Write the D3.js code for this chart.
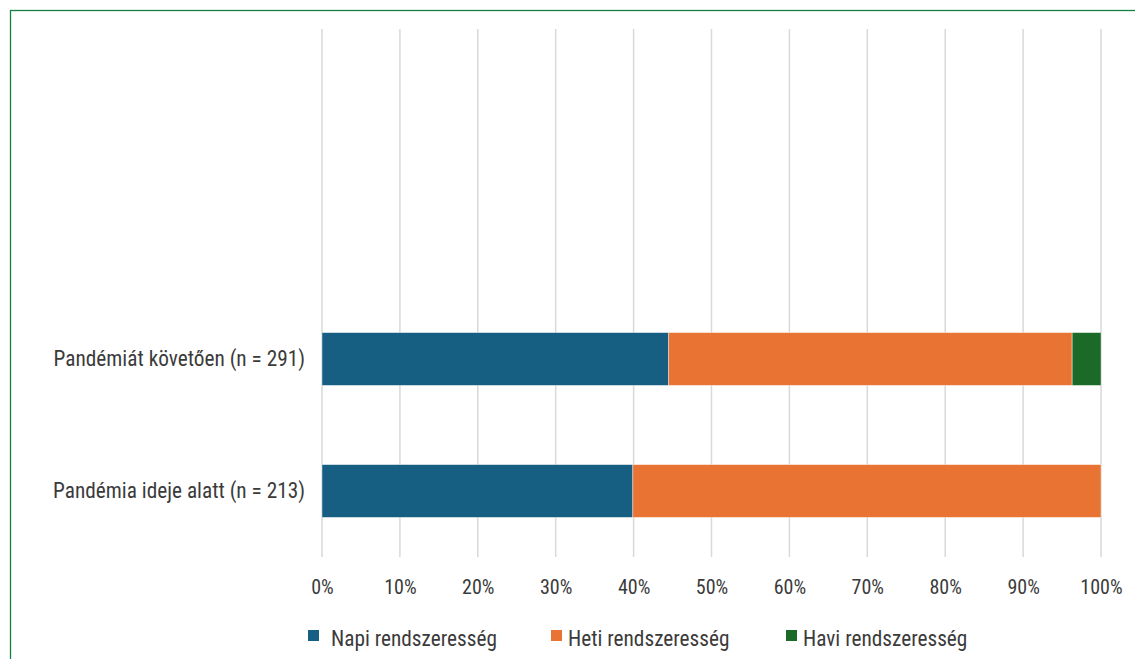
<!DOCTYPE html>
<html><head><meta charset="utf-8">
<script src="https://cdn.jsdelivr.net/npm/d3@7"></script>
<style>
html,body{margin:0;padding:0;background:#fff;overflow:hidden}
text{font-family:"Roboto Condensed","Liberation Sans Narrow","DejaVu Sans Condensed",Roboto,sans-serif;fill:#3b3b3b}
</style></head>
<body><svg id="c" width="1135" height="659"></svg>
<script>
const categories = ["Pandémiát követően (n = 291)", "Pandémia ideje alatt (n = 213)"];
const seriesNames = ["Napi rendszeresség", "Heti rendszeresség", "Havi rendszeresség"];
const napi = [44.5, 39.9];
const heti = [51.8, 60.1];
const havi = [3.7, 0];
const tickValues = [0,10,20,30,40,50,60,70,80,90,100];
const tickLabels = ["0%","10%","20%","30%","40%","50%","60%","70%","80%","90%","100%"];
const colors = ["#175f82", "#e97333", "#1b6a27"];

const svg = d3.select("#c");
svg.append("rect").attr("x",10.5).attr("y",10.5).attr("width",1140).attr("height",660)
  .attr("fill","none").attr("stroke","#148041").attr("stroke-width",1.3);

const x = d3.scaleLinear().domain([0,100]).range([322,1101]);
const gridTop = 29, gridBottom = 557;
const y = d3.scaleBand().domain(categories).range([293, 557]).paddingInner(0.6).paddingOuter(0.3);

svg.append("g").selectAll("line").data(tickValues).join("line")
  .attr("x1",d=>x(d)).attr("x2",d=>x(d)).attr("y1",gridTop).attr("y2",gridBottom)
  .attr("stroke","#d9d9d9").attr("stroke-width",1.5);

const rows = categories.map((c,i)=>({cat:c, Napi:napi[i], Heti:heti[i], Havi:havi[i]}));
const stack = d3.stack().keys(["Napi","Heti","Havi"])(rows);
svg.append("g").selectAll("g").data(stack).join("g").attr("fill",(d,i)=>colors[i])
  .selectAll("rect").data(d=>d.filter(p=>p[1]-p[0]>0)).join("rect")
  .attr("x",d=>x(d[0])).attr("width",d=>x(d[1])-x(d[0]))
  .attr("y",d=>y(d.data.cat)).attr("height",y.bandwidth())
  .attr("stroke","#ffffff").attr("stroke-opacity",0.5).attr("stroke-width",0.8);

// x axis labels
const xa = d3.axisBottom(x).tickValues(tickValues).tickFormat((d,i)=>tickLabels[i]).tickSize(0).tickPadding(0);
const gx = svg.append("g").attr("transform","translate(0,594)").call(xa);
gx.select(".domain").remove();
gx.selectAll("text").attr("font-size",20).attr("font-family",null).attr("dy",0);

// y axis labels
const ya = d3.axisLeft(y).tickSize(0).tickPadding(17);
const gy = svg.append("g").attr("transform","translate(322,0)").call(ya);
gy.select(".domain").remove();
gy.selectAll("text").attr("font-size",21.3).attr("font-family",null);

// legend
const legX = [308, 551, 786];
const legTextX = [331, 568, 803];
const lg = svg.append("g").selectAll("g").data(seriesNames).join("g");
lg.append("rect").attr("x",(d,i)=>legX[i]).attr("y",630).attr("width",11).attr("height",11).attr("fill",(d,i)=>colors[i]);
lg.append("text").attr("x",(d,i)=>legTextX[i]).attr("y",646).attr("font-size",21.3).text(d=>d);
</script></body></html>
